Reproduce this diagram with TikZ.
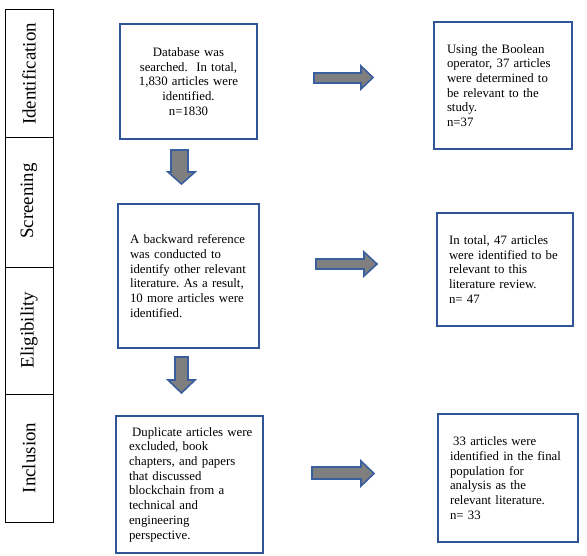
\documentclass[tikz,border=0pt]{standalone}
\usepackage{fontspec}
\setmainfont{Liberation Serif}
\frenchspacing
\definecolor{boxblue}{HTML}{2F5597}
\definecolor{arrowblue}{HTML}{3A5F9E}
\definecolor{arrowgray}{HTML}{7F7F7F}
\begin{document}
\begin{tikzpicture}[x=1pt,y=-1pt,
  stagebox/.style={draw=boxblue, line width=2pt, rectangle, font=\fontsize{12.8}{14.7}\selectfont, inner ysep=0pt},
  blockarrow/.style={draw=arrowblue, line width=1.6pt, fill=arrowgray, line join=miter},
  sidelabel/.style={rotate=90, font=\fontsize{18.9}{22}\selectfont, inner sep=0pt},
  sidecol/.style={draw=black, line width=1pt}
]
\useasboundingbox (0,0) rectangle (587,555);
% left column
\draw[sidecol] (5,9) rectangle (53,522);
\draw[sidecol] (5,137) -- (53,137);
\draw[sidecol] (5,267) -- (53,267);
\draw[sidecol] (5,394) -- (53,394);
\node[sidelabel] (lid) at (29,74) {Identification};
\node[sidelabel] (lsc) at (29,201) {Screening};
\node[sidelabel] (lel) at (29,330) {Eligibility};
\node[sidelabel] (lin) at (29,458) {Inclusion};
% left boxes
\node[stagebox, minimum width=137pt, minimum height=115pt, text width=123pt, inner xsep=7pt, align=center] (b1) at (188.5,81.5)
 {Database was\\ searched.\ \ In total,\\ 1,830 articles were\\ identified.\\ n=1830};
\node[stagebox, minimum width=141pt, minimum height=144pt, text width=117pt, inner xsep=12pt, align=left] (b2) at (188.5,276)
 {A backward reference\\ was conducted to\\ identify other relevant\\ literature. As a result,\\ 10 more articles were\\ identified.};
\node[stagebox, minimum width=147pt, minimum height=137pt, text width=121pt, inner xsep=13pt, align=left] (b3) at (189.5,484.5)
 {\mbox{\hspace{0.25em}Duplicate articles were}\\ excluded, book\\ chapters, and papers\\ that discussed\\ blockchain from a\\ technical and\\ engineering\\ perspective.};
% right boxes
\node[stagebox, minimum width=138pt, minimum height=127pt, text width=112pt, inner xsep=13pt, align=left] (r1) at (503,85.5)
 {Using the Boolean\\ operator, 37 articles\\ were determined to\\ be relevant to the\\ study.\\ n=37};
\node[stagebox, minimum width=136pt, minimum height=113pt, text width=112pt, inner xsep=12pt, align=left] (r2) at (505,269.5)
 {In total, 47 articles\\ were identified to be\\ relevant to this\\ literature review.\\ n= 47};
\node[stagebox, minimum width=140pt, minimum height=128pt, text width=116pt, inner xsep=12pt, align=left] (r3) at (508,478)
 {\mbox{\hspace{0.25em}33 articles were}\\ identified in the final\\ population for\\ analysis as the\\ relevant literature.\\ n= 33};
% down arrows
\draw[blockarrow] (171,150) -- (188,150) -- (188,172) -- (195,172) -- (181.5,184) -- (168,172) -- (171,172) -- cycle;
\draw[blockarrow] (175,357) -- (188,357) -- (188,380) -- (195,380) -- (181.5,393) -- (168,380) -- (175,380) -- cycle;
% right arrows
\draw[blockarrow] (314,73) -- (361,73) -- (361,66) -- (373,77.5) -- (361,89) -- (361,83) -- (314,83) -- cycle;
\draw[blockarrow] (316,259) -- (364,259) -- (364,252) -- (377,264) -- (364,276) -- (364,269) -- (316,269) -- cycle;
\draw[blockarrow] (312,467) -- (361,467) -- (361,461) -- (374,473.5) -- (361,486) -- (361,479) -- (312,479) -- cycle;
\end{tikzpicture}
\end{document}
